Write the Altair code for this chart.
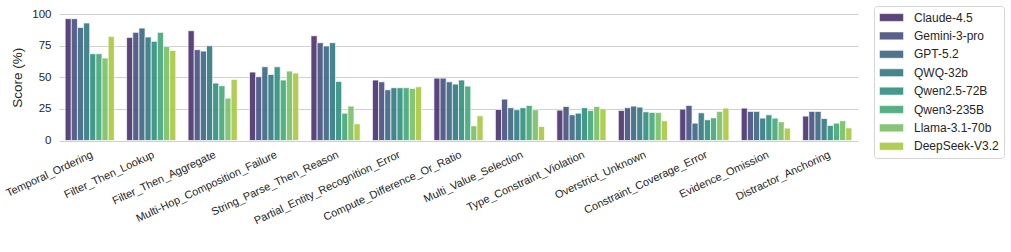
import altair as alt
import pandas as pd

categories = [
    "Temporal_Ordering", "Filter_Then_Lookup", "Filter_Then_Aggregate",
    "Multi-Hop_Composition_Failure", "String_Parse_Then_Reason",
    "Partial_Entity_Recognition_Error", "Compute_Difference_Or_Ratio",
    "Multi_Value_Selection", "Type_Constraint_Violation", "Overstrict_Unknown",
    "Constraint_Coverage_Error", "Evidence_Omission", "Distractor_Anchoring",
]
models = ["Claude-4.5", "Gemini-3-pro", "GPT-5.2", "QWQ-32b",
          "Qwen2.5-72B", "Qwen3-235B", "Llama-3.1-70b", "DeepSeek-V3.2"]
colors = ["#4a326e", "#475080", "#3d6682", "#337881",
          "#2f8e7e", "#45a779", "#78bf67", "#a9c842"]

claude = [96.3, 81.5, 86.8, 54.1, 82.8, 47.8, 49.3, 24.5, 24.0, 23.7, 24.8, 25.6, 19.3]
gemini = [96.3, 85.5, 71.8, 50.4, 77.3, 46.4, 49.3, 32.7, 26.9, 25.9, 27.7, 23.0, 23.0]
gpt = [89.4, 88.9, 70.7, 58.3, 74.7, 40.1, 46.4, 25.9, 20.3, 27.2, 13.7, 23.0, 23.0]
qwq = [92.9, 81.8, 74.9, 52.2, 77.3, 41.7, 44.6, 24.3, 21.6, 26.4, 21.9, 17.7, 17.4]
qwen25 = [68.6, 78.4, 45.4, 58.3, 46.7, 41.7, 47.8, 25.9, 25.9, 22.7, 16.4, 20.3, 11.9]
qwen3 = [68.6, 85.5, 43.3, 47.8, 21.6, 41.7, 43.0, 27.7, 23.7, 22.2, 17.9, 17.7, 13.7]
llama = [65.2, 74.4, 33.5, 54.9, 27.2, 41.2, 11.6, 24.3, 26.9, 22.2, 23.0, 14.8, 15.6]
deepseek = [82.3, 71.2, 48.3, 53.3, 13.2, 42.5, 19.5, 11.1, 25.1, 15.6, 25.6, 9.8, 10.0]

series = [claude, gemini, gpt, qwq, qwen25, qwen3, llama, deepseek]
rows = []
for m, vals in zip(models, series):
    for c, v in zip(categories, vals):
        rows.append({"category": c, "model": m, "score": v})
df = pd.DataFrame(rows)

FONT = "Liberation Sans"
TXT = "#262626"

chart = alt.Chart(df).mark_bar(
    opacity=0.9, stroke="white", strokeWidth=0.7
).encode(
    x=alt.X("category:N", sort=categories, title=None,
            scale=alt.Scale(paddingInner=0.2, paddingOuter=0.1),
            axis=alt.Axis(labelAngle=335, labelAlign="right", labelBaseline="top",
                          labelFontSize=11, labelPadding=8, ticks=False, domain=False,
                          labelFont=FONT, labelColor=TXT, grid=False)),
    xOffset=alt.XOffset("model:N", sort=models,
                        scale=alt.Scale(paddingInner=0, paddingOuter=0)),
    y=alt.Y("score:Q", title="Score (%)",
            scale=alt.Scale(domain=[0, 100], nice=False),
            axis=alt.Axis(values=[0, 25, 50, 75, 100], ticks=False, domain=False,
                          labelFontSize=11.5, labelPadding=8, labelFont=FONT,
                          labelColor=TXT, titleFont=FONT, titleFontSize=13.5,
                          titleFontWeight="normal", titleColor=TXT, titlePadding=7,
                          gridColor="#d0d0d0", gridWidth=1)),
    color=alt.Color("model:N", sort=models,
                    scale=alt.Scale(domain=models, range=colors),
                    legend=alt.Legend(
                        title=None, orient="none", legendX=815, legendY=-8,
                        symbolType="M-1,-0.65L3,-0.65L3,0.65L-1,0.65Z",
                        symbolSize=144, symbolOpacity=0.9,
                        symbolStrokeColor="white", symbolStrokeWidth=0.5,
                        labelOffset=22, labelFontSize=12, labelFont=FONT,
                        labelColor=TXT, rowPadding=5.4, padding=5,
                        strokeColor="#d5d5d5", cornerRadius=3,
                        fillColor="white")),
).properties(
    width=799, height=126.5,
    autosize=alt.AutoSizeParams(type="none"),
    padding={"left": 59, "top": 14, "right": 153, "bottom": 111.5},
).configure_view(stroke=None)

chart.save("out.html", embed_options={"renderer": "svg", "actions": False})
